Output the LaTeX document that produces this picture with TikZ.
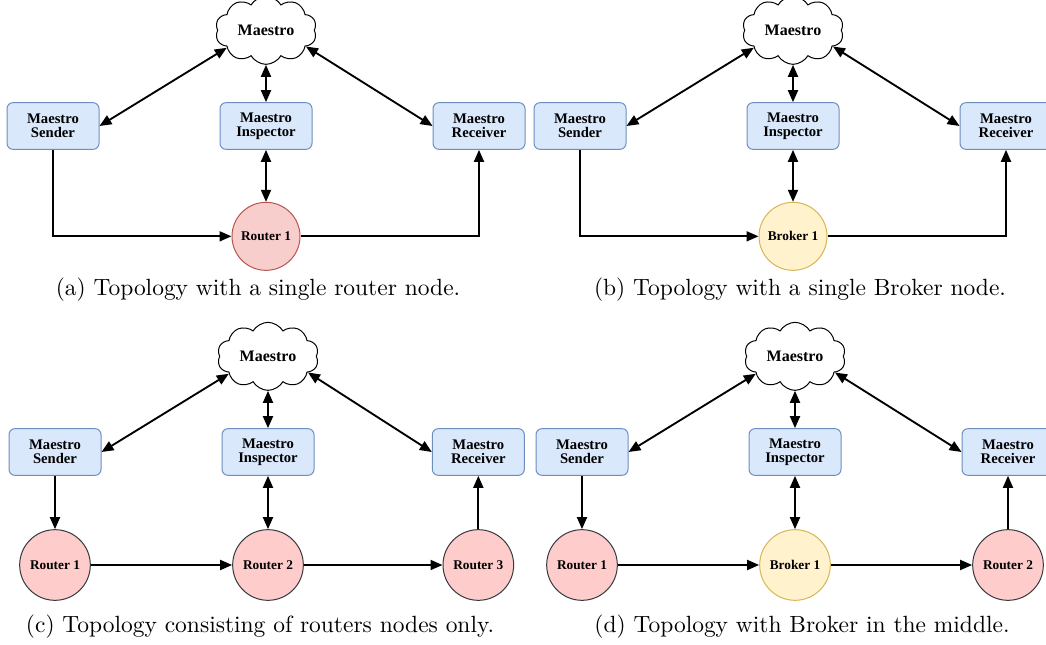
\documentclass[tikz,border=0pt]{standalone}
\usepackage{fontspec}
\newfontfamily\nodefont{Liberation Serif}
\newfontfamily\captfont{lmroman10-regular}[Extension=.otf]
\usepackage{tikz}
\usetikzlibrary{positioning,shapes.symbols,arrows.meta}

\definecolor{boxfill}{HTML}{DAE8FC}
\definecolor{boxline}{HTML}{6C8EBF}
\definecolor{rtrfill}{HTML}{F8CECC}
\definecolor{rtrline}{HTML}{B85450}
\definecolor{rtrfillb}{HTML}{FFCCCC}
\definecolor{rtrlineb}{HTML}{36393D}
\definecolor{brkfill}{HTML}{FFF2CC}
\definecolor{brkline}{HTML}{D6B656}

\begin{document}
\begin{tikzpicture}[x=0.75pt,y=-0.75pt,
    ->,
    >={Triangle[length=9pt,width=7.5pt]},
    line width=1.4pt,
    mbox/.style={%
      rectangle, rounded corners=4.5pt, draw=boxline, fill=boxfill,
      line width=0.75pt, minimum width=69pt, minimum height=35pt,
      inner sep=2pt, align=center,
      font=\nodefont\bfseries\fontsize{11}{10.5}\selectfont
    },
    mcloud/.style={%
      cloud, cloud puffs=10, cloud puff arc=120, cloud ignores aspect,
      draw=black, fill=white, line width=0.75pt,
      minimum width=76pt, minimum height=51pt, inner sep=0pt,
      font=\nodefont\bfseries\fontsize{12}{12}\selectfont
    },
    rtr/.style={%
      circle, draw=rtrline, fill=rtrfill, line width=0.75pt,
      minimum size=51pt, inner sep=0pt,
      font=\nodefont\bfseries\fontsize{10}{10}\selectfont
    },
    rtrb/.style={rtr, draw=rtrlineb, fill=rtrfillb, minimum size=53pt},
    brk/.style={rtr, draw=brkline, fill=brkfill},
    brkb/.style={brk, minimum size=53pt},
    capt/.style={font=\captfont\fontsize{17.6}{20}\selectfont}
]
    \useasboundingbox (0,0) rectangle (1046,645);

    % (a) single router
    \node[mbox] (inspA) at (266,126)         {Maestro\\Inspector};
    \node[mbox] (sndA)  [left=90pt of inspA]  {Maestro\\Sender};
    \node[mbox] (rcvA)  [right=90pt of inspA] {Maestro\\Receiver};
    \node[mcloud] (cldA) [above=28pt of inspA] {Maestro};
    \node[rtr] (rtrA)   [below=39pt of inspA] {Router 1};
    \node[capt] (capA) at (258,290) {(a) Topology with a single router node.};

    \draw[<->] (sndA.east) -- (cldA.204);
    \draw[<->] (rcvA.west) -- (cldA.-22);
    \draw[<->] (cldA.south) -- (inspA.north);
    \draw[<->] (inspA) -- (rtrA);
    \draw (sndA) |- (rtrA);
    \draw (rtrA) -| (rcvA);

    % (b) single broker
    \node[mbox] (inspB) at (793,126)         {Maestro\\Inspector};
    \node[mbox] (sndB)  [left=90pt of inspB]  {Maestro\\Sender};
    \node[mbox] (rcvB)  [right=90pt of inspB] {Maestro\\Receiver};
    \node[mcloud] (cldB) [above=28pt of inspB] {Maestro};
    \node[brk] (brkB)   [below=39pt of inspB] {Broker 1};
    \node[capt] (capB) at (800,290) {(b) Topology with a single Broker node.};

    \draw[<->] (sndB.east) -- (cldB.204);
    \draw[<->] (rcvB.west) -- (cldB.-22);
    \draw[<->] (cldB.south) -- (inspB.north);
    \draw[<->] (inspB) -- (brkB);
    \draw (sndB) |- (brkB);
    \draw (brkB) -| (rcvB);

    % (c) routers only
    \node[mbox] (inspC) at (268,452)         {Maestro\\Inspector};
    \node[mbox] (sndC)  [left=90pt of inspC]  {Maestro\\Sender};
    \node[mbox] (rcvC)  [right=88pt of inspC] {Maestro\\Receiver};
    \node[mcloud] (cldC) [above=28pt of inspC] {Maestro};
    \node[rtrb] (rtr1C) [below=40pt of sndC]  {Router 1};
    \node[rtrb] (rtr2C) [below=40pt of inspC] {Router 2};
    \node[rtrb] (rtr3C) [below=40pt of rcvC]  {Router 3};
    \node[capt] (capC) at (260,627) {(c) Topology consisting of routers nodes only.};

    \draw[<->] (sndC.east) -- (cldC.204);
    \draw[<->] (rcvC.west) -- (cldC.-22);
    \draw[<->] (cldC.south) -- (inspC.north);
    \draw[<->] (inspC) -- (rtr2C);
    \draw (sndC) -- (rtr1C);
    \draw (rtr1C) -- (rtr2C);
    \draw (rtr2C) -- (rtr3C);
    \draw (rtr3C) -- (rcvC);

    % (d) broker in the middle
    \node[mbox] (inspD) at (795,452)         {Maestro\\Inspector};
    \node[mbox] (sndD)  [left=90pt of inspD]  {Maestro\\Sender};
    \node[mbox] (rcvD)  [right=90pt of inspD] {Maestro\\Receiver};
    \node[mcloud] (cldD) [above=28pt of inspD] {Maestro};
    \node[rtrb] (rtr1D) [below=40pt of sndD]  {Router 1};
    \node[brkb] (brkD)  [below=40pt of inspD] {Broker 1};
    \node[rtrb] (rtr2D) [below=40pt of rcvD]  {Router 2};
    \node[capt] (capD) at (802,627) {(d) Topology with Broker in the middle.};

    \draw[<->] (sndD.east) -- (cldD.204);
    \draw[<->] (rcvD.west) -- (cldD.-22);
    \draw[<->] (cldD.south) -- (inspD.north);
    \draw[<->] (inspD) -- (brkD);
    \draw (sndD) -- (rtr1D);
    \draw (rtr1D) -- (brkD);
    \draw (brkD) -- (rtr2D);
    \draw (rtr2D) -- (rcvD);
\end{tikzpicture}
\end{document}
